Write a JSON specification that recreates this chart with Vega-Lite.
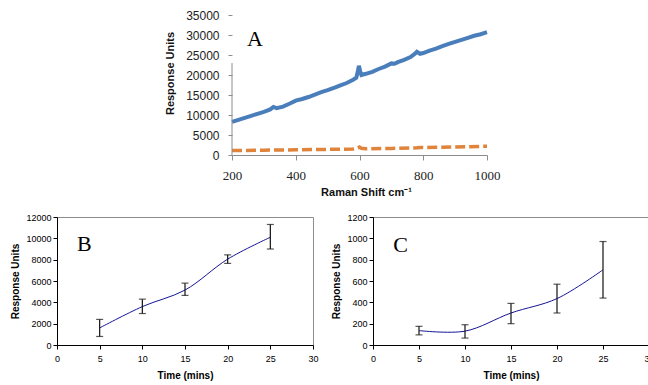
{
  "$schema": "https://vega.github.io/schema/vega-lite/v6.json",
  "padding": {"left": 10, "top": 9, "right": 0, "bottom": 0},
  "autosize": {"type": "pad"},
  "background": "white",
  "config": {"view": {"stroke": null}, "font": "Liberation Sans", "axis": {"grid": false, "labelOverlap": false, "format": "d"}},
  "datasets": {
    "blue": [
      {"shift": 200, "ru": 8300}, {"shift": 220, "ru": 8800}, {"shift": 240, "ru": 9300}, {"shift": 260, "ru": 9800},
      {"shift": 280, "ru": 10300}, {"shift": 300, "ru": 10800}, {"shift": 320, "ru": 11400}, {"shift": 330, "ru": 12000},
      {"shift": 340, "ru": 11700}, {"shift": 360, "ru": 12100}, {"shift": 380, "ru": 12800}, {"shift": 400, "ru": 13600},
      {"shift": 420, "ru": 14000}, {"shift": 440, "ru": 14500}, {"shift": 460, "ru": 15100}, {"shift": 480, "ru": 15700},
      {"shift": 500, "ru": 16200}, {"shift": 520, "ru": 16800}, {"shift": 540, "ru": 17400}, {"shift": 560, "ru": 18000},
      {"shift": 580, "ru": 18800}, {"shift": 590, "ru": 19300}, {"shift": 595, "ru": 21000}, {"shift": 598, "ru": 22300},
      {"shift": 602, "ru": 21000}, {"shift": 606, "ru": 20000}, {"shift": 620, "ru": 20300}, {"shift": 640, "ru": 20800},
      {"shift": 660, "ru": 21500}, {"shift": 680, "ru": 22100}, {"shift": 700, "ru": 22900}, {"shift": 710, "ru": 22800},
      {"shift": 720, "ru": 23200}, {"shift": 740, "ru": 23800}, {"shift": 760, "ru": 24500}, {"shift": 775, "ru": 25400},
      {"shift": 780, "ru": 25800}, {"shift": 790, "ru": 25300}, {"shift": 800, "ru": 25500}, {"shift": 820, "ru": 26100},
      {"shift": 840, "ru": 26600}, {"shift": 860, "ru": 27200}, {"shift": 880, "ru": 27800}, {"shift": 900, "ru": 28300},
      {"shift": 920, "ru": 28800}, {"shift": 940, "ru": 29300}, {"shift": 960, "ru": 29800}, {"shift": 980, "ru": 30200},
      {"shift": 1000, "ru": 30700}
    ],
    "orange": [
      {"shift": 200, "ru": 1100}, {"shift": 300, "ru": 1200}, {"shift": 400, "ru": 1300}, {"shift": 500, "ru": 1400},
      {"shift": 580, "ru": 1500}, {"shift": 595, "ru": 1800}, {"shift": 600, "ru": 2000}, {"shift": 606, "ru": 1700},
      {"shift": 620, "ru": 1550}, {"shift": 700, "ru": 1650}, {"shift": 780, "ru": 1800}, {"shift": 790, "ru": 1900},
      {"shift": 800, "ru": 1850}, {"shift": 900, "ru": 2000}, {"shift": 1000, "ru": 2200}
    ],
    "b": [
      {"t": 5, "ru": 1600, "lo": 800, "hi": 2400},
      {"t": 10, "ru": 3600, "lo": 2950, "hi": 4300},
      {"t": 15, "ru": 5150, "lo": 4650, "hi": 5800},
      {"t": 20, "ru": 8050, "lo": 7650, "hi": 8450},
      {"t": 25, "ru": 10100, "lo": 9000, "hi": 11300}
    ],
    "c": [
      {"t": 5, "ru": 135, "lo": 95, "hi": 175},
      {"t": 10, "ru": 130, "lo": 65, "hi": 190},
      {"t": 15, "ru": 300, "lo": 200, "hi": 390},
      {"t": 20, "ru": 435, "lo": 300, "hi": 570},
      {"t": 25, "ru": 705, "lo": 440, "hi": 970}
    ]
  },
  "spacing": 15,
  "vconcat": [
    {
      "spacing": 6,
      "hconcat": [
        {
          "width": 101,
          "height": 140,
          "data": {"values": []},
          "mark": "point",
          "encoding": {}
        },
        {
          "width": 255,
          "height": 140,
          "encoding": {
            "x": {"field": "shift", "type": "quantitative",
              "scale": {"domain": [200, 1000], "nice": false, "zero": false},
              "axis": {"values": [200, 400, 600, 800, 1000], "title": "Raman Shift cm⁻¹", "labelOverlap": false, "labelFlush": false,
                "labelFont": "Liberation Serif", "labelFontSize": 13, "labelColor": "#222",
                "domainColor": "#8c8c8c", "tickColor": "#8c8c8c", "tickSize": 5, "labelPadding": 9,
                "titleFont": "Liberation Sans", "titleFontSize": 11, "titleFontWeight": "bold", "titleColor": "#111", "titlePadding": 4, "titleX": 134}},
            "y": {"field": "ru", "type": "quantitative",
              "scale": {"domain": [0, 35000], "nice": false},
              "axis": {"values": [0, 5000, 10000, 15000, 20000, 25000, 30000, 35000], "title": "Response Units",
                "labelOverlap": false, "labelFlush": false, "labelBound": false,
                "domain": false, "ticks": true, "tickSize": 4, "tickColor": "#8c8c8c", "labelPadding": 9,
                "labelFontSize": 12, "labelColor": "#222",
                "titleFontSize": 11, "titleFontWeight": "bold", "titleColor": "#111", "titlePadding": 10, "titleY": 58}}
          },
          "layer": [
            {
              "data": {"name": "orange"},
              "mark": {"type": "line", "color": "#E0843C", "strokeWidth": 3.5, "strokeDash": [10, 4]}
            },
            {
              "data": {"name": "blue"},
              "mark": {"type": "line", "color": "#4A7EBB", "strokeWidth": 4}
            },
            {
              "data": {"values": [{"shift": 200, "ru": 0, "hi": 23000}]},
              "mark": {"type": "rule", "color": "#8c8c8c", "strokeWidth": 1},
              "encoding": {"y2": {"field": "hi"}}
            },
            {
              "data": {"values": [{"label": "A", "shift": 272, "ru": 29000}]},
              "mark": {"type": "text", "font": "Liberation Serif", "fontSize": 22, "baseline": "middle", "align": "center", "color": "#000"},
              "encoding": {"text": {"field": "label"}}
            }
          ]
        }
      ]
    },
    {
      "spacing": 12,
      "hconcat": [
        {
          "width": 256,
          "height": 128,
          "view": {"stroke": "#8c8c8c"},
          "data": {"name": "b"},
          "encoding": {
            "x": {"field": "t", "type": "quantitative",
              "scale": {"domain": [0, 30], "nice": false},
              "axis": {"values": [0, 5, 10, 15, 20, 25, 30], "title": "Time (mins)", "labelOverlap": false, "labelFlush": false,
                "domainColor": "#000", "tickColor": "#000", "tickSize": 4, "labelPadding": 5,
                "labelFontSize": 9, "labelColor": "#000", "titleFontSize": 10, "titleFontWeight": "bold", "titleColor": "#000", "titlePadding": 7}},
            "y": {"field": "ru", "type": "quantitative",
              "scale": {"domain": [0, 12000], "nice": false},
              "axis": {"values": [0, 2000, 4000, 6000, 8000, 10000, 12000], "title": "Response Units", "labelOverlap": false, "labelFlush": false,
                "domainColor": "#000", "tickColor": "#000", "tickSize": 4, "labelPadding": 2,
                "labelFontSize": 9, "labelColor": "#000", "titleFontSize": 10, "titleFontWeight": "bold", "titleColor": "#000", "titlePadding": 5}}
          },
          "layer": [
            {"mark": {"type": "line", "interpolate": "catmull-rom", "color": "#141496", "strokeWidth": 1}},
            {"mark": {"type": "rule", "color": "#111", "strokeWidth": 1.2},
              "encoding": {"y": {"field": "lo", "type": "quantitative"}, "y2": {"field": "hi"}}},
            {"mark": {"type": "tick", "orient": "horizontal", "color": "#111", "size": 7, "thickness": 1.2},
              "encoding": {"y": {"field": "lo", "type": "quantitative"}}},
            {"mark": {"type": "tick", "orient": "horizontal", "color": "#111", "size": 7, "thickness": 1.2},
              "encoding": {"y": {"field": "hi", "type": "quantitative"}}},
            {"data": {"values": [{"label": "B", "t": 3.2, "ru": 9500}]},
              "mark": {"type": "text", "font": "Liberation Serif", "fontSize": 22, "baseline": "middle", "align": "center", "color": "#000"},
              "encoding": {"text": {"field": "label"}}}
          ]
        },
        {
          "width": 276,
          "height": 128,
          "view": {"stroke": "#8c8c8c"},
          "data": {"name": "c"},
          "encoding": {
            "x": {"field": "t", "type": "quantitative",
              "scale": {"domain": [0, 30], "nice": false},
              "axis": {"values": [0, 5, 10, 15, 20, 25, 30], "title": "Time (mins)", "labelOverlap": false, "labelFlush": false,
                "domainColor": "#000", "tickColor": "#000", "tickSize": 4, "labelPadding": 5,
                "labelFontSize": 9, "labelColor": "#000", "titleFontSize": 10, "titleFontWeight": "bold", "titleColor": "#000", "titlePadding": 7}},
            "y": {"field": "ru", "type": "quantitative",
              "scale": {"domain": [0, 1200], "nice": false},
              "axis": {"values": [0, 200, 400, 600, 800, 1000, 1200], "title": "Response Units", "labelOverlap": false, "labelFlush": false,
                "domainColor": "#000", "tickColor": "#000", "tickSize": 4, "labelPadding": 2,
                "labelFontSize": 9, "labelColor": "#000", "titleFontSize": 10, "titleFontWeight": "bold", "titleColor": "#000", "titlePadding": 5}}
          },
          "layer": [
            {"mark": {"type": "line", "interpolate": "catmull-rom", "color": "#141496", "strokeWidth": 1}},
            {"mark": {"type": "rule", "color": "#111", "strokeWidth": 1.2},
              "encoding": {"y": {"field": "lo", "type": "quantitative"}, "y2": {"field": "hi"}}},
            {"mark": {"type": "tick", "orient": "horizontal", "color": "#111", "size": 7, "thickness": 1.2},
              "encoding": {"y": {"field": "lo", "type": "quantitative"}}},
            {"mark": {"type": "tick", "orient": "horizontal", "color": "#111", "size": 7, "thickness": 1.2},
              "encoding": {"y": {"field": "hi", "type": "quantitative"}}},
            {"data": {"values": [{"label": "C", "t": 3.0, "ru": 940}]},
              "mark": {"type": "text", "font": "Liberation Serif", "fontSize": 22, "baseline": "middle", "align": "center", "color": "#000"},
              "encoding": {"text": {"field": "label"}}}
          ]
        }
      ]
    }
  ]
}
